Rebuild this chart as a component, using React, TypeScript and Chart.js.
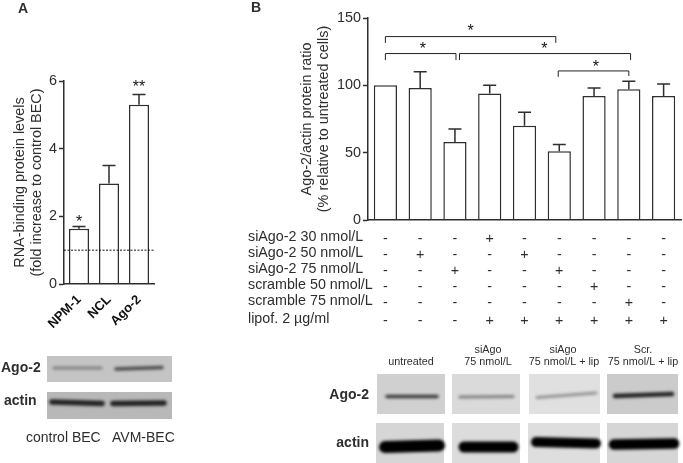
import React, { useEffect, useRef } from "react";
import { Chart, registerables } from "chart.js";

Chart.register(...registerables);

const FONT = '"Liberation Sans", Arial, sans-serif';
const INK = "#2e2e2e";

// Panel A
const aCategories = ["NPM-1", "NCL", "Ago-2"];
const aValues = [1.63, 2.97, 5.3];
const aErrTops = [1.7, 3.5, 5.6];
const aTicks = [0, 2, 4, 6];
const aBaseline = 1;
const aStars = [
  { i: 0, v: 1.93, t: "*" },
  { i: 2, v: 5.9, t: "**" },
];

// Panel B
const bCategories = ["1", "2", "3", "4", "5", "6", "7", "8", "9"];
const bValues = [100, 98, 58, 94, 70, 51, 92, 97, 92];
const bErrTops = [100, 110, 67.5, 100, 80, 56, 98, 103, 101];
const bTicks = [0, 50, 100, 150];
const bBrackets = [
  { from: 0, to: 4.9, v: 136.2, l: 131.5, r: 131.5, sx: 2.45, sv: 142.8 },
  { from: 0, to: 2.03, v: 123.6, l: 118.7, r: 118.7, sx: 1.08, sv: 129 },
  { from: 2.13, to: 7.05, v: 123.6, l: 118.7, r: 118.7, sx: 4.57, sv: 129.3 },
  { from: 4.97, to: 7.0, v: 110.7, l: 106.3, r: 107, sx: 6.05, sv: 116 },
];
const tableLabels = [
  "siAgo-2 30 nmol/L",
  "siAgo-2 50 nmol/L",
  "siAgo-2 75 nmol/L",
  "scramble 50 nmol/L",
  "scramble 75 nmol/L",
  "lipof. 2 \u00b5g/ml",
];
const tableRows = [
  ["-", "-", "-", "+", "-", "-", "-", "-", "-"],
  ["-", "+", "-", "-", "+", "-", "-", "-", "-"],
  ["-", "-", "+", "-", "-", "+", "-", "-", "-"],
  ["-", "-", "-", "-", "-", "-", "+", "-", "-"],
  ["-", "-", "-", "-", "-", "-", "-", "+", "-"],
  ["-", "-", "-", "+", "+", "+", "+", "+", "+"],
];
const tableRowY = [237, 253, 269, 285.5, 301.5, 319];

// Photographed western blots, approximated as panels with blurred bands
const aBlots = [
  { x: 47, y: 356, w: 125, h: 26, fill: "#c4c4c4" },
  { x: 47, y: 392, w: 125, h: 27, fill: "#b8b8b8" },
];
const aBands = [
  { x0: 54, y0: 368, x1: 101, y1: 368, t: 3, c: "#808080" },
  { x0: 116, y0: 369, x1: 162, y1: 367.5, t: 3.5, c: "#4a4a4a" },
  { x0: 52, y0: 402, x1: 102, y1: 403.5, t: 5.5, c: "#222" },
  { x0: 113, y0: 403.5, x1: 164, y1: 403, t: 5.5, c: "#222" },
];
const bBlots = [
  { x: 377, y: 374, w: 68, h: 40, fill: "#d0d0d0" },
  { x: 452, y: 374, w: 68, h: 40, fill: "#dadada" },
  { x: 529, y: 374, w: 71, h: 40, fill: "#e0e0e0" },
  { x: 607, y: 374, w: 71, h: 40, fill: "#cbcbcb" },
  { x: 376, y: 423, w: 68, h: 40, fill: "#d6d6d6" },
  { x: 452, y: 423, w: 68, h: 40, fill: "#dcdcdc" },
  { x: 528, y: 423, w: 72, h: 40, fill: "#dedede" },
  { x: 607, y: 423, w: 71, h: 40, fill: "#d6d6d6" },
];
const bBands = [
  { x0: 387, y0: 396.5, x1: 437, y1: 396.5, t: 3.5, c: "#3a3a3a" },
  { x0: 460, y0: 397, x1: 513, y1: 396.5, t: 3.2, c: "#808080" },
  { x0: 537, y0: 397.5, x1: 596, y1: 393, t: 2.8, c: "#929292" },
  { x0: 615, y0: 396, x1: 672, y1: 394, t: 4.5, c: "#222" },
  { x0: 385, y0: 447, x1: 439, y1: 445.5, t: 12, c: "#000" },
  { x0: 464, y0: 447, x1: 513, y1: 447, t: 11, c: "#000" },
  { x0: 536, y0: 442, x1: 596, y1: 443.5, t: 10, c: "#000" },
  { x0: 614, y0: 444.5, x1: 674, y1: 443.5, t: 10.5, c: "#000" },
];

type Txt = { t: string; x: number; y: number; f: string; a?: CanvasTextAlign; c?: string };
const aTexts: Txt[] = [
  { t: "A", x: 18, y: 9, f: `bold 14px ${FONT}` },
  { t: "Ago-2", x: 1, y: 368, f: `bold 14px ${FONT}` },
  { t: "actin", x: 4, y: 401, f: `bold 14px ${FONT}` },
  { t: "control BEC", x: 26, y: 438.5, f: `14px ${FONT}` },
  { t: "AVM-BEC", x: 112, y: 438.5, f: `14px ${FONT}` },
];
const bTexts: Txt[] = [
  { t: "B", x: 251, y: 8, f: `bold 14px ${FONT}` },
  { t: "Ago-2", x: 369, y: 395.5, f: `bold 14px ${FONT}`, a: "right" },
  { t: "actin", x: 369, y: 443.5, f: `bold 14px ${FONT}`, a: "right" },
  { t: "untreated", x: 411, y: 362, f: `10.8px ${FONT}`, a: "center" },
  { t: "siAgo", x: 488, y: 350, f: `10.8px ${FONT}`, a: "center" },
  { t: "75 nmol/L", x: 488, y: 362, f: `10.8px ${FONT}`, a: "center" },
  { t: "siAgo", x: 563, y: 350, f: `10.8px ${FONT}`, a: "center" },
  { t: "75 nmol/L + lip", x: 564, y: 362, f: `10.8px ${FONT}`, a: "center" },
  { t: "Scr.", x: 643, y: 350, f: `10.8px ${FONT}`, a: "center" },
  { t: "75 nmol/L + lip", x: 643, y: 362, f: `10.8px ${FONT}`, a: "center" },
];

function drawBlots(ctx: any, blots: any[], bands: any[]) {
  ctx.save();
  for (const b of blots) {
    ctx.fillStyle = b.fill;
    ctx.fillRect(b.x, b.y, b.w, b.h);
  }
  ctx.filter = "blur(1.4px)";
  ctx.lineCap = "round";
  for (const b of bands) {
    ctx.strokeStyle = b.c;
    ctx.lineWidth = b.t;
    ctx.beginPath();
    ctx.moveTo(b.x0, b.y0);
    ctx.lineTo(b.x1, b.y1);
    ctx.stroke();
  }
  ctx.restore();
}

function drawTexts(ctx: any, texts: Txt[]) {
  ctx.save();
  ctx.textBaseline = "middle";
  for (const t of texts) {
    ctx.font = t.f;
    ctx.textAlign = t.a || "left";
    ctx.fillStyle = t.c || INK;
    ctx.fillText(t.t, t.x, t.y);
  }
  ctx.restore();
}

function drawErrors(chart: any, tops: number[]) {
  const { ctx, scales } = chart;
  const bars = chart.getDatasetMeta(0).data;
  ctx.save();
  ctx.strokeStyle = INK;
  ctx.lineWidth = 1.5;
  tops.forEach((top, i) => {
    const x = bars[i].x;
    const y0 = bars[i].y;
    const y1 = scales.y.getPixelForValue(top);
    if (y1 >= y0) return;
    ctx.beginPath();
    ctx.moveTo(x, y0);
    ctx.lineTo(x, y1);
    ctx.moveTo(x - 6.5, y1);
    ctx.lineTo(x + 6.5, y1);
    ctx.stroke();
  });
  ctx.restore();
}

function drawStar(ctx: any, text: string, x: number, y: number) {
  ctx.save();
  ctx.font = `16px ${FONT}`;
  ctx.fillStyle = "#111";
  ctx.textAlign = "center";
  ctx.textBaseline = "alphabetic";
  ctx.fillText(text, x, y + 8);
  ctx.restore();
}

function baseOptions(
  padding: any,
  yWidth: number,
  xHeight: number,
  ticks: number[],
  yMax: number,
  title: string[],
  xOptions: any
) {
  return {
    responsive: false,
    animation: false as const,
    layout: { padding },
    plugins: { legend: { display: false }, tooltip: { enabled: false } },
    scales: {
      x: {
        offset: true,
        grid: { display: false },
        border: { color: INK, width: 1.5, z: 1 },
        afterFit: (s: any) => {
          s.height = xHeight;
        },
        ...xOptions,
      },
      y: {
        min: 0,
        max: yMax,
        afterFit: (s: any) => {
          s.width = yWidth;
        },
        afterBuildTicks: (s: any) => {
          s.ticks = ticks.map((value) => ({ value }));
        },
        grid: { drawOnChartArea: false, tickLength: 5, tickColor: INK, tickWidth: 1.5 },
        border: { color: INK, width: 1.5 },
        ticks: { color: INK, padding: 2, font: { family: FONT, size: 14.4 } },
        title: {
          display: true,
          text: title,
          color: INK,
          padding: { top: 0, bottom: 0 },
          font: { family: FONT, size: 14.4 },
        },
      },
    },
  };
}

function barDataset(values: number[], pct: number) {
  return {
    data: values,
    backgroundColor: "#ffffff",
    borderColor: INK,
    borderWidth: 1.5,
    borderSkipped: "bottom" as const,
    barPercentage: pct,
    categoryPercentage: 1,
  };
}

export default function App() {
  const aRef = useRef<HTMLCanvasElement>(null);
  const bRef = useRef<HTMLCanvasElement>(null);

  useEffect(() => {
    const chartA = new Chart(aRef.current as any, {
      type: "bar",
      data: { labels: aCategories, datasets: [barDataset(aValues, 0.667)] },
      options: baseOptions(
        { left: 11, top: 81, right: 529, bottom: 129 },
        53,
        50,
        aTicks,
        6,
        ["RNA-binding protein levels", "(fold increase to control BEC)"],
        {
          ticks: {
            color: "#111",
            minRotation: 45,
            maxRotation: 45,
            padding: 0,
            autoSkip: false,
            font: { family: FONT, size: 13, weight: "bold" },
          },
        }
      ) as any,
      plugins: [
        {
          id: "panelA",
          afterDatasetsDraw(chart: any) {
            const { ctx, scales, chartArea } = chart;
            drawErrors(chart, aErrTops);
            const y = scales.y.getPixelForValue(aBaseline);
            ctx.save();
            ctx.strokeStyle = "#111";
            ctx.lineWidth = 1;
            ctx.setLineDash([2, 1.5]);
            ctx.beginPath();
            ctx.moveTo(chartArea.left, y);
            ctx.lineTo(chartArea.right, y);
            ctx.stroke();
            ctx.restore();
            for (const s of aStars) {
              drawStar(ctx, s.t, scales.x.getPixelForValue(s.i), scales.y.getPixelForValue(s.v));
            }
            drawBlots(ctx, aBlots, aBands);
            drawTexts(ctx, aTexts);
          },
        },
      ],
    });

    const chartB = new Chart(bRef.current as any, {
      type: "bar",
      data: { labels: bCategories, datasets: [barDataset(bValues, 0.667)] },
      options: baseOptions(
        { left: 298, top: 18, right: 2, bottom: 232 },
        70,
        11,
        bTicks,
        150,
        ["Ago-2/actin protein ratio", "(% relative to untreated cells)"],
        { ticks: { display: false } }
      ) as any,
      plugins: [
        {
          id: "panelB",
          afterDatasetsDraw(chart: any) {
            const { ctx, scales } = chart;
            drawErrors(chart, bErrTops);
            const { x, y } = scales;
            ctx.save();
            ctx.strokeStyle = "#222";
            ctx.lineWidth = 1;
            for (const b of bBrackets) {
              const x0 = x.getPixelForValue(b.from);
              const x1 = x.getPixelForValue(b.to);
              ctx.beginPath();
              ctx.moveTo(x0, y.getPixelForValue(b.l));
              ctx.lineTo(x0, y.getPixelForValue(b.v));
              ctx.lineTo(x1, y.getPixelForValue(b.v));
              ctx.lineTo(x1, y.getPixelForValue(b.r));
              ctx.stroke();
            }
            ctx.restore();
            for (const b of bBrackets) {
              drawStar(ctx, "*", x.getPixelForValue(b.sx), y.getPixelForValue(b.sv));
            }
            ctx.save();
            ctx.textBaseline = "middle";
            ctx.fillStyle = INK;
            ctx.font = `14.3px ${FONT}`;
            tableLabels.forEach((label, r) => {
              ctx.textAlign = "left";
              ctx.fillText(label, 248, tableRowY[r]);
              tableRows[r].forEach((sym, c) => {
                ctx.textAlign = "center";
                ctx.fillText(sym, x.getPixelForValue(c), tableRowY[r] + 2);
              });
            });
            ctx.restore();
            drawBlots(ctx, bBlots, bBands);
            drawTexts(ctx, bTexts);
          },
        },
      ],
    });

    return () => {
      chartA.destroy();
      chartB.destroy();
    };
  }, []);

  const style: React.CSSProperties = { position: "fixed", left: 0, top: 0 };
  return (
    <>
      <canvas ref={aRef} width={683} height={463} style={style} />
      <canvas ref={bRef} width={683} height={463} style={style} />
    </>
  );
}
